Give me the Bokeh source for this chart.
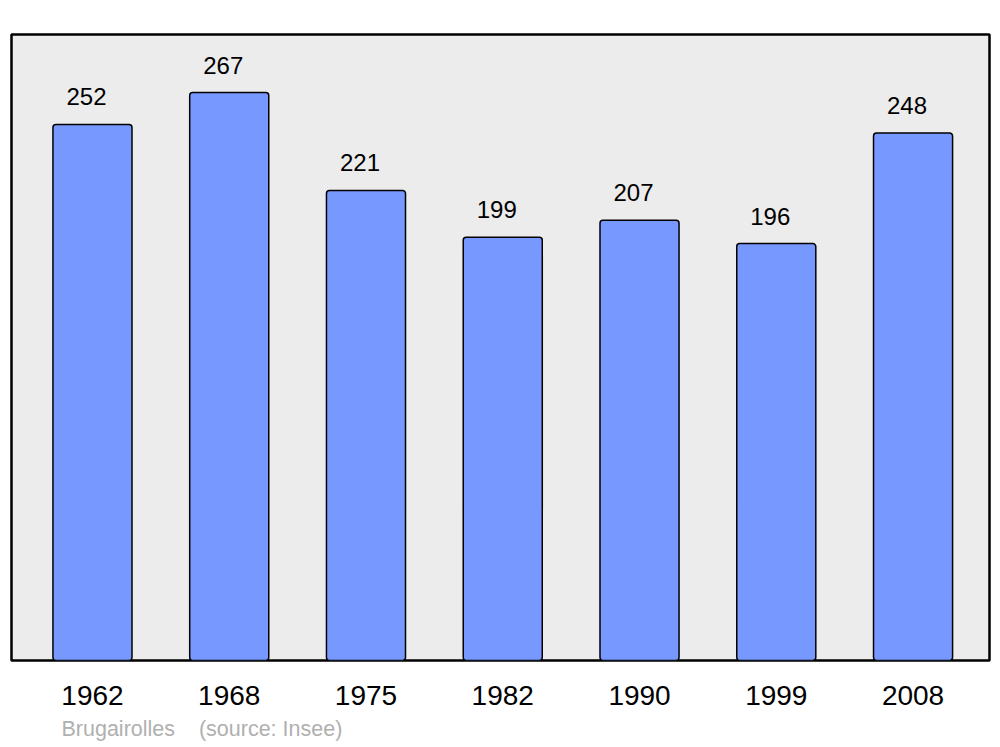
from bokeh.plotting import figure
from bokeh.models import ColumnDataSource, LabelSet, FixedTicker, Title
from bokeh.core.properties import value
from bokeh.embed import file_html
from bokeh.resources import INLINE

years = ["1962", "1968", "1975", "1982", "1990", "1999", "2008"]
population = [252, 267, 221, 199, 207, 196, 248]

xs = list(range(len(years)))
src = ColumnDataSource(dict(x=xs, top=population, label=[str(v) for v in population]))

p = figure(width=992, height=747, output_backend="svg", toolbar_location=None,
           x_range=(-0.592, 6.559), y_range=(0, 294.3),
           min_border_left=11, min_border_right=3, min_border_top=34, min_border_bottom=87)
p.background_fill_color = "#ececec"
p.border_fill_color = "white"
p.outline_line_color = "black"
p.outline_line_width = 2.5
p.outline_line_alpha = 1
p.grid.visible = False
p.yaxis.visible = False

p.vbar(x="x", top="top", bottom=0, width=0.578, source=src, fill_color="#7799ff",
       line_color="black", line_width=1.5, border_radius=3)

labels = LabelSet(x="x", y="top", text="label", source=src, y_offset=19, x_offset=-6,
                  text_align="center", text_baseline="alphabetic",
                  text_font=value("Liberation Sans"), text_font_size=value("24px"),
                  text_color="black")
p.add_layout(labels)

ax = p.xaxis[0]
ax.ticker = FixedTicker(ticks=xs)
ax.major_label_overrides = {i: y for i, y in enumerate(years)}
ax.axis_line_color = None
ax.major_tick_line_color = None
ax.minor_tick_line_color = None
ax.major_label_standoff = 19
ax.major_label_text_font = "Liberation Sans"
ax.major_label_text_font_size = "28px"
ax.major_label_text_color = "black"

src_title = Title(text="Brugairolles\u00a0\u00a0\u00a0\u00a0(source: Insee)", align="left",
                  offset=50, text_font="Liberation Sans", text_font_size="21.5px",
                  text_font_style="normal", text_color="#b0b0b0", standoff=14)
p.add_layout(src_title, "below")

open("out.html", "w").write(file_html(p, INLINE))
